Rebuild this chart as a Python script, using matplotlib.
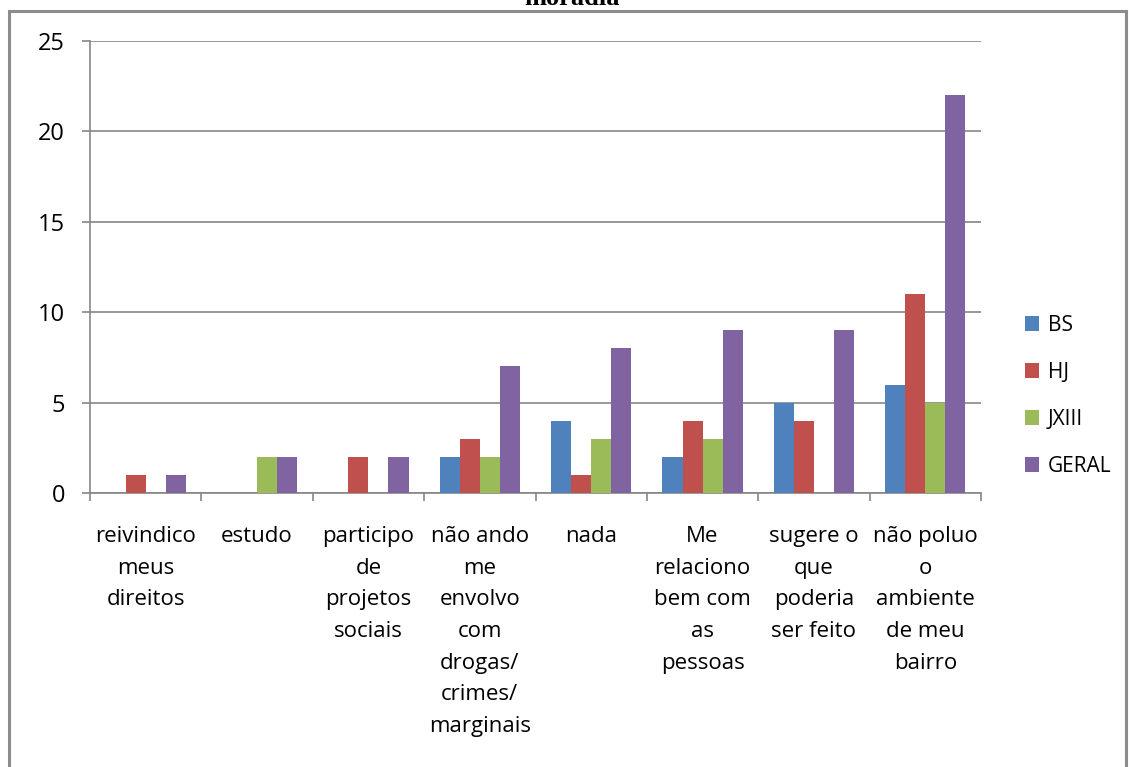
import numpy as np
import matplotlib
matplotlib.use("Agg")
import matplotlib.pyplot as plt
from matplotlib.patches import Rectangle

categories = [
    "reivindico\nmeus\ndireitos",
    "estudo",
    "participo\nde\nprojetos\nsociais",
    "não ando\nme\nenvolvo\ncom\ndrogas/\ncrimes/\nmarginais",
    "nada",
    "Me\nrelaciono\nbem com\nas\npessoas",
    "sugere o\nque\npoderia\nser feito",
    "não poluo\no\nambiente\nde meu\nbairro",
]
series_names = ["BS", "HJ", "JXIII", "GERAL"]
bs = [0, 0, 0, 2, 4, 2, 5, 6]
hj = [1, 0, 2, 3, 1, 4, 4, 11]
jxiii = [0, 2, 0, 2, 3, 3, 0, 5]
geral = [1, 2, 2, 7, 8, 9, 9, 22]
colors = ["#4F81BD", "#C0504D", "#9BBB59", "#8064A2"]

plt.rcParams["font.family"] = ["Open Sans", "DejaVu Sans"]

W, H = 1129, 767
fig = plt.figure(figsize=(W / 100, H / 100), dpi=100)
ax = fig.add_axes([90 / W, 1 - 493 / H, (981 - 90) / W, (493 - 41) / H])

x = np.arange(len(categories))
bw = 0.18
for i, (vals, name) in enumerate(zip([bs, hj, jxiii, geral], series_names)):
    ax.bar(x + (i - 1.5) * bw, vals, width=bw, color=colors[i], label=name, zorder=3)

ax.set_xlim(-0.5, len(categories) - 0.5)
ax.set_ylim(0, 25)
ax.set_yticks(range(0, 26, 5))
ax.grid(axis="y", color="#868686", linewidth=1.2, zorder=0)
ax.set_xticks(x)
ax.set_xticklabels(categories, fontsize=16, linespacing=1.66, va="top")
ax.set_xticks(np.arange(-0.5, len(categories), 1), minor=True)
ax.tick_params(axis="x", which="major", length=0, pad=24)
ax.tick_params(axis="x", which="minor", length=6, color="#868686", width=1.2)
ax.tick_params(axis="y", length=6, color="#868686", width=1.2, labelsize=17, pad=12)
for s in ["top", "right"]:
    ax.spines[s].set_visible(False)
for s in ["left", "bottom"]:
    ax.spines[s].set_color("#868686")
    ax.spines[s].set_linewidth(1.2)

ax.legend(loc="center left", bbox_to_anchor=(1.028, 0.215), frameon=False,
          fontsize=15, handlelength=0.7, handleheight=0.7, handletextpad=0.4,
          labelspacing=1.25)

fig.patches.append(Rectangle((9 / W, -0.1), (1126 - 9) / W, 1.1 - 11 / H,
                             transform=fig.transFigure, fill=False,
                             edgecolor="#8c8c8c", linewidth=2.2))
fig.text(572 / W, 1 - 5 / H, "moradia", ha="center", va="baseline",
         fontsize=19, fontweight="bold", family="Liberation Serif")

fig.savefig("out.png", dpi=100)
